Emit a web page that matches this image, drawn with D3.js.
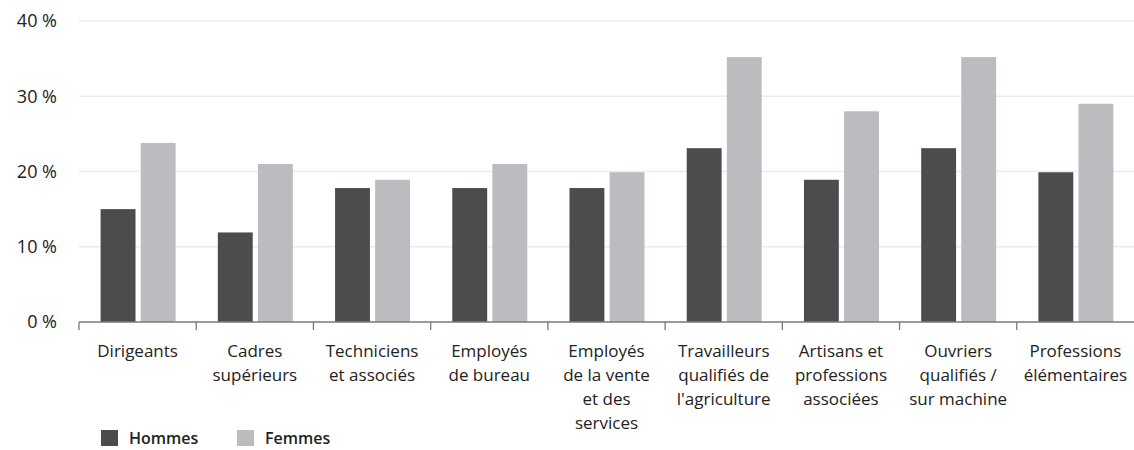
<!DOCTYPE html>
<html>
<head>
<meta charset="utf-8">
<script src="https://d3js.org/d3.v7.min.js"></script>
<style>
    html, body { margin: 0; padding: 0; background: #fff; }
    svg { display: block; font-family: "Open Sans", sans-serif; }
    .ylab { font-size: 18px; fill: #222; }
    .xlab { font-size: 17px; fill: #222; }
    .leg { font-size: 16px; font-weight: 600; fill: #222; }
</style>
</head>
<body>
<div id="chart"></div>
<script>
    // categories (multi-line labels split with "|")
    var categories = [
        "Dirigeants",
        "Cadres|supérieurs",
        "Techniciens|et associés",
        "Employés|de bureau",
        "Employés|de la vente|et des|services",
        "Travailleurs|qualifiés de|l'agriculture",
        "Artisans et|professions|associées",
        "Ouvriers|qualifiés /|sur machine",
        "Professions|élémentaires"
    ];
    var hommes = [15, 11.9, 17.8, 17.8, 17.8, 23.1, 18.9, 23.1, 19.9];
    var femmes = [23.8, 21, 18.9, 21, 19.9, 35.2, 28, 35.2, 29];
    var seriesNames = ["Hommes", "Femmes"];
    var seriesColors = ["#4b4c4e", "#bbbcc0"];
    var yTicks = [0, 10, 20, 30, 40];

    var width = 1134, height = 450;
    var margin = {top: 21, right: 0, bottom: 128, left: 79};

    var svg = d3.select("#chart").append("svg")
        .attr("width", width)
        .attr("height", height);

    var x = d3.scaleBand()
        .domain(d3.range(categories.length))
        .range([margin.left, width - margin.right]);

    var y = d3.scaleLinear()
        .domain([0, 40])
        .range([height - margin.bottom, margin.top]);

    var xs = d3.scaleBand()
        .domain([0, 1])
        .range([0, 75])
        .paddingInner(0.13);

    // gridlines
    svg.append("g").selectAll("line")
        .data(yTicks.filter(function (d) { return d > 0; }))
        .enter().append("line")
        .attr("x1", margin.left).attr("x2", width)
        .attr("y1", function (d) { return y(d); })
        .attr("y2", function (d) { return y(d); })
        .attr("stroke", "#ececec")
        .attr("stroke-width", 1.5);

    // y labels
    svg.append("g").selectAll("text")
        .data(yTicks)
        .enter().append("text")
        .attr("class", "ylab")
        .attr("x", 57)
        .attr("y", function (d) { return y(d); })
        .attr("dy", "0.35em")
        .attr("text-anchor", "end")
        .text(function (d) { return d + " %"; });

    // bars
    var groups = svg.append("g").selectAll("g")
        .data(categories)
        .enter().append("g")
        .attr("transform", function (d, i) {
            return "translate(" + (x(i) + x.bandwidth() / 2 - 37) + ",0)";
        });

    groups.selectAll("rect")
        .data(function (d, i) { return [hommes[i], femmes[i]]; })
        .enter().append("rect")
        .attr("x", function (d, j) { return xs(j); })
        .attr("width", xs.bandwidth())
        .attr("y", function (d) { return y(d); })
        .attr("height", function (d) { return y(0) - y(d); })
        .attr("fill", function (d, j) { return seriesColors[j]; });

    // x axis line and ticks
    var y0 = y(0);
    svg.append("line")
        .attr("x1", margin.left).attr("x2", width)
        .attr("y1", y0).attr("y2", y0)
        .attr("stroke", "#7a7a7a").attr("stroke-width", 1.3);

    var tickPos = d3.range(categories.length).map(function (i) { return x(i); });
    svg.append("g").selectAll("line")
        .data(tickPos)
        .enter().append("line")
        .attr("x1", function (d) { return d; })
        .attr("x2", function (d) { return d; })
        .attr("y1", y0).attr("y2", y0 + 8)
        .attr("stroke", "#7a7a7a").attr("stroke-width", 1.3);

    // category labels
    var labels = svg.append("g").selectAll("text")
        .data(categories)
        .enter().append("text")
        .attr("class", "xlab")
        .attr("text-anchor", "middle")
        .attr("x", function (d, i) { return x(i) + x.bandwidth() / 2; })
        .attr("y", 357);

    labels.selectAll("tspan")
        .data(function (d, i) {
            var cx = x(i) + x.bandwidth() / 2;
            return d.split("|").map(function (t) { return {t: t, cx: cx}; });
        })
        .enter().append("tspan")
        .attr("x", function (d) { return d.cx; })
        .attr("dy", function (d, k) { return k === 0 ? 0 : 24; })
        .text(function (d) { return d.t; });

    // legend
    var legX = [101, 237];
    var leg = svg.append("g").selectAll("g")
        .data(seriesNames)
        .enter().append("g")
        .attr("transform", function (d, i) { return "translate(" + legX[i] + ",430)"; });
    leg.append("rect")
        .attr("width", 17).attr("height", 16)
        .attr("fill", function (d, i) { return seriesColors[i]; });
    leg.append("text")
        .attr("class", "leg")
        .attr("x", 28).attr("y", 14)
        .text(function (d) { return d; });
</script>
</body>
</html>
